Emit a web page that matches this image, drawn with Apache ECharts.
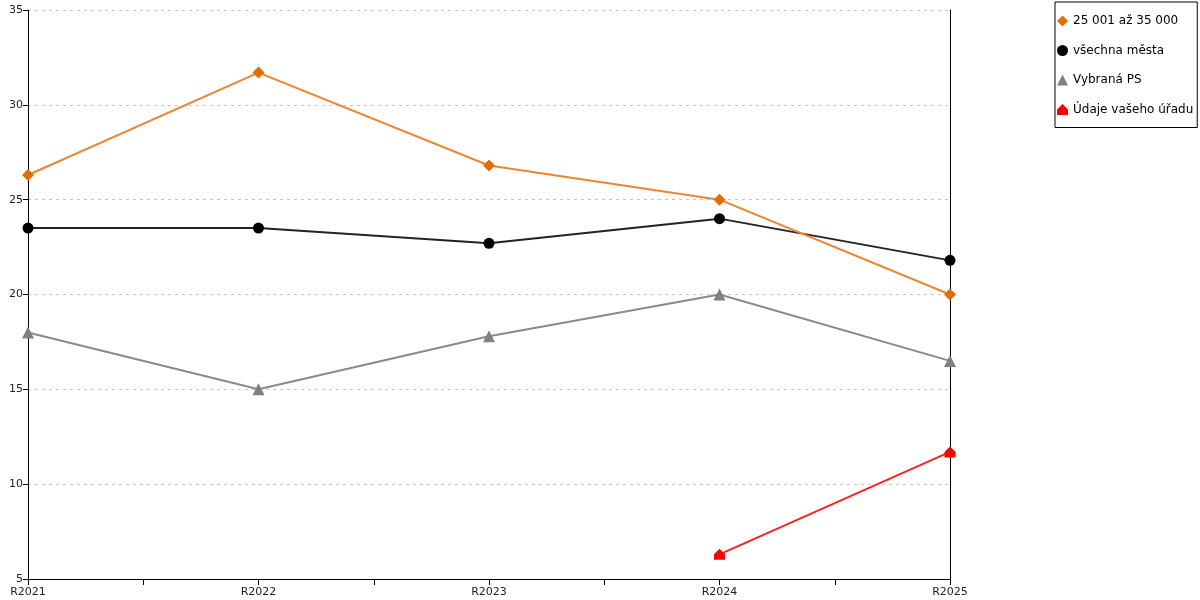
<!DOCTYPE html>
<html>
<head>
<meta charset="utf-8">
<script src="https://cdn.jsdelivr.net/npm/echarts@6/dist/echarts.min.js"></script>
<style>
html,body{margin:0;padding:0;background:#fff;}
#chart{width:1200px;height:600px;}
</style>
</head>
<body>
<div id="chart"></div>
<script>
var categories=['R2021','R2022','R2023','R2024','R2025'];
var seriesNames=['25 001 až 35 000','všechna města','Vybraná PS','Údaje vašeho úřadu'];
var orangeData=[26.3,31.7,26.8,25.0,20.0];
var blackData=[23.5,23.5,22.7,24.0,21.8];
var greyData=[18.0,15.0,17.8,20.0,16.5];
var redData=[null,null,null,6.3,11.7];
var yTicks=[5,10,15,20,25,30,35];
var house='path://M5,0 L10,5 L10,10 L0,10 L0,5 Z';   //red marker (little house)

// helper axis: ticks on categories and half steps
var halfSteps=[];
for (var i=0;i<categories.length*2-1;i++){
    halfSteps.push('');
}

var font='DejaVu Sans';
var myChart=echarts.init(document.getElementById('chart'));
var option={
    animation:false,
    textStyle:{fontFamily:font},
    grid:{left:28,right:250,top:10,bottom:21},
    legend:{
        orient:'vertical',
        left:1055,
        top:2,
        padding:[13,4,12,2],
        itemGap:17.5,
        itemWidth:11,
        itemHeight:11,
        borderColor:'#000',
        borderWidth:1,
        backgroundColor:'#fff',
        textStyle:{fontFamily:font,fontSize:12,color:'#000'},
        data:[
            {name:seriesNames[0],icon:'diamond'},
            {name:seriesNames[1],icon:'circle'},
            {name:seriesNames[2],icon:'triangle'},
            {name:seriesNames[3],icon:house}
        ]
    },
    xAxis:[
        {
            type:'category',
            data:categories,
            boundaryGap:false,
            position:'bottom',
            axisLine:{lineStyle:{color:'#000',width:1}},
            axisTick:{show:false},
            axisLabel:{color:'#222',fontSize:11,fontFamily:font,margin:8,interval:0}
        },
        {
            type:'category',
            data:halfSteps,
            boundaryGap:false,
            position:'bottom',
            axisLine:{show:false},
            axisLabel:{show:false},
            axisTick:{show:true,length:6,interval:0,lineStyle:{color:'#000'}}
        }
    ],
    yAxis:[
        {
            type:'value',
            min:yTicks[0],
            max:yTicks[yTicks.length-1],
            interval:5,
            position:'left',
            axisLine:{show:true,lineStyle:{color:'#000',width:1}},
            axisTick:{show:true,length:5,lineStyle:{color:'#000'}},
            axisLabel:{color:'#222',fontSize:11,fontFamily:font,margin:5},
            splitLine:{show:true,lineStyle:{color:'#c4c4c4',type:[3,4]}}
        },
        {
            type:'value',
            min:yTicks[0],
            max:yTicks[yTicks.length-1],
            interval:5,
            position:'right',
            axisLine:{show:true,lineStyle:{color:'#000',width:1}},
            axisTick:{show:false},
            axisLabel:{show:false},
            splitLine:{show:false}
        }
    ],
    series:[
        {
            name:seriesNames[0],
            type:'line',
            data:orangeData,
            symbol:'diamond',
            symbolSize:12,
            lineStyle:{color:'#ee8530',width:2},
            itemStyle:{color:'#e06c0a'},
            z:4
        },
        {
            name:seriesNames[1],
            type:'line',
            data:blackData,
            symbol:'circle',
            symbolSize:11,
            lineStyle:{color:'#222',width:2},
            itemStyle:{color:'#000'},
            z:3
        },
        {
            name:seriesNames[2],
            type:'line',
            data:greyData,
            symbol:'triangle',
            symbolSize:12,
            lineStyle:{color:'#8a8a8a',width:2},
            itemStyle:{color:'#808080'},
            z:2
        },
        {
            name:seriesNames[3],
            type:'line',
            data:redData,
            symbol:house,
            symbolSize:11,
            connectNulls:false,
            lineStyle:{color:'#ff2020',width:2},
            itemStyle:{color:'#ff0000'},
            z:5
        }
    ]
};
myChart.setOption(option);
</script>
</body>
</html>
